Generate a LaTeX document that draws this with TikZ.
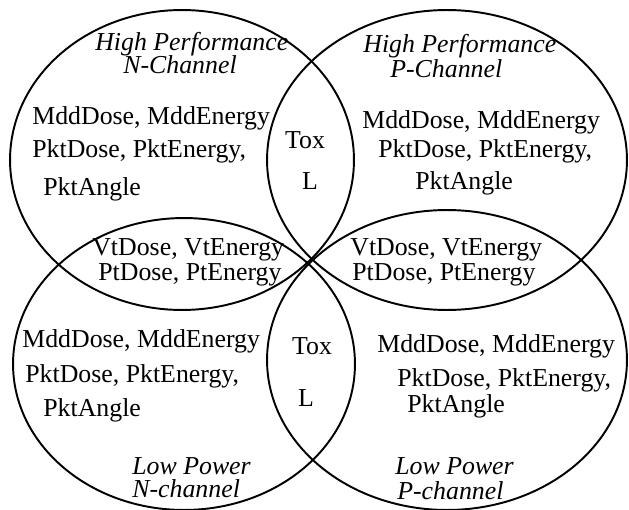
\documentclass[tikz,border=0pt]{standalone}
\usepackage{fontspec}
\setmainfont{Liberation Serif}
\usetikzlibrary{positioning}

\tikzset{
  setline/.style={draw=black, line width=1.1pt},
  parm/.style={font=\fontsize{14.7}{16}\selectfont, anchor=base west, inner sep=0pt},
  grp/.style={font=\fontsize{14.7}{16}\selectfont\itshape, anchor=base west, inner sep=0pt}
}

\begin{document}
\begin{tikzpicture}[x=0.02cm, y=-0.02cm]
  \useasboundingbox (0,0) rectangle (629,510);

  % The four device sets (pixel grid, y down)
  \draw[setline] (182,160) ellipse [x radius=3.44cm, y radius=3.0cm];
  \draw[setline] (447,160) ellipse [x radius=3.6cm, y radius=3.0cm];
  \draw[setline] (184,364) ellipse [x radius=3.42cm, y radius=2.92cm];
  \draw[setline] (447,360) ellipse [x radius=3.6cm, y radius=3.0cm];

  % High performance, N-channel
  \node[grp]  (hpnA) at (95,51)  {High Performance};
  \node[grp]  (hpnB) at (123,74) {N-Channel};
  \node[parm] (hpn1) at (32,125) {MddDose, MddEnergy};
  \node[parm] (hpn2) at (32,157) {PktDose, PktEnergy,};
  \node[parm] (hpn3) at (43,195) {PktAngle};

  % High performance, P-channel
  \node[grp]  (hppA) at (363,53)  {High Performance};
  \node[grp]  (hppB) at (390,78)  {P-Channel};
  \node[parm] (hpp1) at (362,129) {MddDose, MddEnergy};
  \node[parm] (hpp2) at (378,157) {PktDose, PktEnergy,};
  \node[parm] (hpp3) at (415,190) {PktAngle};

  % shared by the two high performance sets
  \node[parm, anchor=base] (toxT) at (305,149) {Tox};
  \node[parm, anchor=base] (lenT) at (310,190) {L};

  % shared by N-channel sets / by P-channel sets
  \node[parm] (nvt1) at (92,255)  {VtDose, VtEnergy};
  \node[parm] (nvt2) at (98,280)  {PtDose, PtEnergy};
  \node[parm] (pvt1) at (350,255) {VtDose, VtEnergy};
  \node[parm] (pvt2) at (352,280) {PtDose, PtEnergy};

  % shared by the two low power sets
  \node[parm, anchor=base] (toxB) at (312,354) {Tox};
  \node[parm, anchor=base] (lenB) at (306,406) {L};

  % Low power, N-channel
  \node[parm] (lpn1) at (22,347)  {MddDose, MddEnergy};
  \node[parm] (lpn2) at (25,382)  {PktDose, PktEnergy,};
  \node[parm] (lpn3) at (43,416)  {PktAngle};
  \node[grp]  (lpnA) at (132,474) {Low Power};
  \node[grp]  (lpnB) at (132,497) {N-channel};

  % Low power, P-channel
  \node[parm] (lpp1) at (377,352) {MddDose, MddEnergy};
  \node[parm] (lpp2) at (397,386) {PktDose, PktEnergy,};
  \node[parm] (lpp3) at (407,412) {PktAngle};
  \node[grp]  (lppA) at (395,474) {Low Power};
  \node[grp]  (lppB) at (397,499) {P-channel};
\end{tikzpicture}
\end{document}
